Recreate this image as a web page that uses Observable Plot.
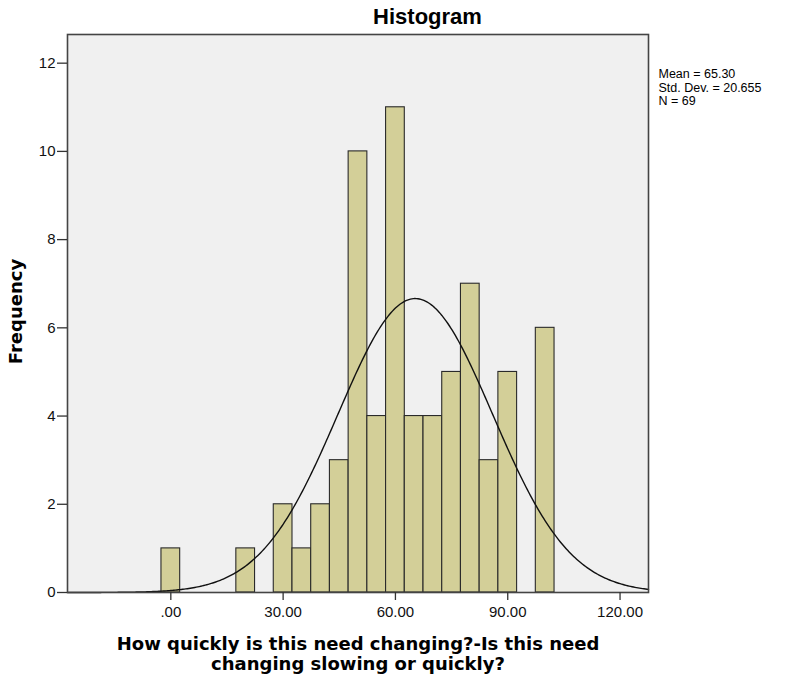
<!DOCTYPE html>
<html><head><meta charset="utf-8">
<script src="https://cdn.jsdelivr.net/npm/d3@7"></script>
<script src="https://cdn.jsdelivr.net/npm/@observablehq/plot@0.6"></script>
<style>
body{margin:0;background:#fff;} svg{display:block;}
#chart svg g[aria-label$="tick label"]{font-size:15px;}
</style>
</head><body><div id="chart"></div>
<script>
const binCenters = [0, 20, 30, 35, 40, 45, 50, 55, 60, 65, 70, 75, 80, 85, 90, 100];
const frequencies = [1, 1, 2, 1, 2, 3, 10, 4, 11, 4, 4, 5, 7, 3, 5, 6];
const binWidth = 5;
const statMean = 65.30;
const statStdDev = 20.655;
const statN = 69;
const xTicks = [0, 30, 60, 90, 120];
const xTickLabels = [".00", "30.00", "60.00", "90.00", "120.00"];
const yTicks = [0, 2, 4, 6, 8, 10, 12];
const statsLines = ["Mean = 65.30", "Std. Dev. = 20.655", "N = 69"];
const titleText = "Histogram";
const yLabel = "Frequency";
const xLabel = "How quickly is this need changing?-Is this need\nchanging slowing or quickly?";

const xDomain = [-27.6, 127.6];
const yDomain = [0, 12.65];

const bins = binCenters.map((c, i) => ({x1: c - binWidth / 2, x2: c + binWidth / 2, y: frequencies[i]}));
// fitted normal curve defined by the reported mean, std. dev. and N
const curve = d3.range(xDomain[0], xDomain[1] + 0.01, 0.4).map(x => ({
  x,
  y: statN * binWidth / (statStdDev * Math.sqrt(2 * Math.PI)) * Math.exp(-0.5 * ((x - statMean) / statStdDev) ** 2)
}));

const font = "'Liberation Sans', Arial, sans-serif";
const labelFont = "'DejaVu Sans', 'Liberation Sans', sans-serif";

const chart = Plot.plot({
  width: 792,
  height: 676,
  marginLeft: 67,
  marginRight: 144,
  marginTop: 34,
  marginBottom: 84,
  style: {fontFamily: font, fontSize: "15px", color: "#222", background: "#fff"},
  x: {domain: xDomain, label: null},
  y: {domain: yDomain, label: null},
  marks: [
    Plot.frame({fill: "#f0f0f0", stroke: null}),
    Plot.rectY(bins, {x1: "x1", x2: "x2", y: "y", fill: "#d3cf98", stroke: "#2a2a2a", strokeWidth: 1.1}),
    Plot.line(curve, {x: "x", y: "y", stroke: "#111", strokeWidth: 1.4}),
    Plot.frame({stroke: "#444", strokeWidth: 1.6}),
    Plot.axisX({ticks: xTicks, tickFormat: d => xTickLabels[xTicks.indexOf(d)], tickSize: 8, tickPadding: 6, fontSize: 15, stroke: "#333", strokeWidth: 1.3, fill: "#111", label: null}),
    Plot.axisY({ticks: yTicks, tickFormat: d => String(d), tickSize: 10, tickPadding: 2, fontSize: 15, stroke: "#333", strokeWidth: 1.3, fill: "#111", label: null}),
    Plot.text([titleText], {frameAnchor: "top", dx: 69.5, dy: -17.5, fontSize: 22, fontWeight: "bold", fill: "#000", lineAnchor: "middle"}),
    Plot.text([statsLines.join("\n")], {frameAnchor: "top-right", dx: 10, dy: 33.5, textAnchor: "start", lineAnchor: "top", fontSize: 12.5, lineHeight: 1.1, fill: "#000"}),
    Plot.text([yLabel], {frameAnchor: "left", textAnchor: "middle", dx: -51, dy: -2, rotate: -90, fontFamily: labelFont, fontSize: 18, fontWeight: "bold", fill: "#000"}),
    Plot.text([xLabel], {frameAnchor: "bottom", dy: 61, lineAnchor: "middle", fontFamily: labelFont, fontSize: 18, lineHeight: 1.11, fontWeight: "bold", fill: "#000"})
  ]
});
document.getElementById("chart").appendChild(chart);
</script>
</body></html>
